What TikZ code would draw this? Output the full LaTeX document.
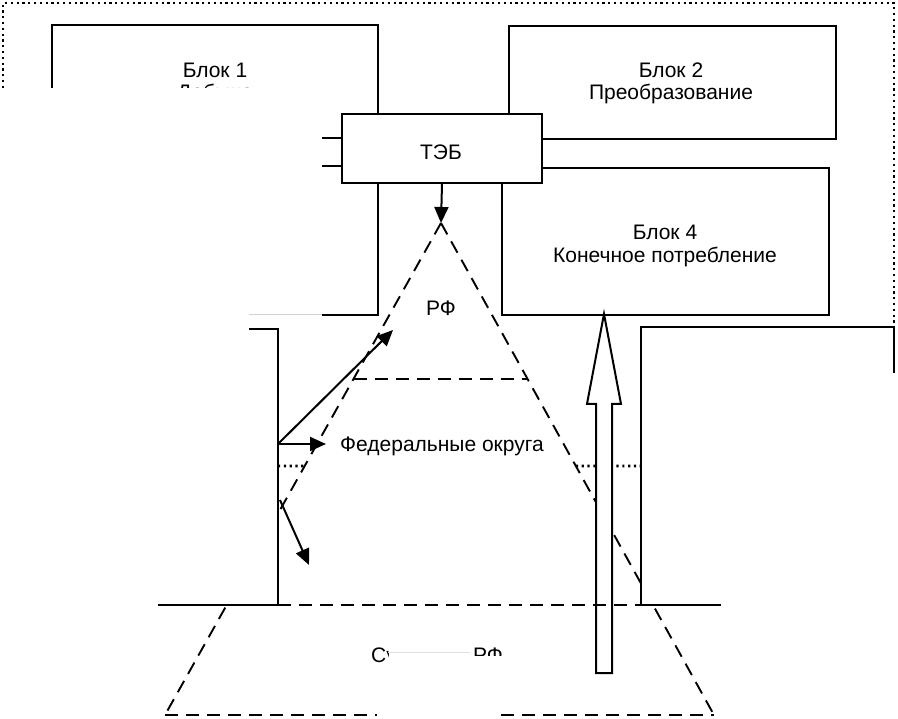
\documentclass[tikz,border=0pt]{standalone}
\usepackage{fontspec}
\setmainfont{Liberation Sans}
\usetikzlibrary{arrows.meta,calc}
\begin{document}
\begin{tikzpicture}[x=1pt,y=-1pt,
  line width=2pt,
  dashline/.style={line width=1.9pt, dash pattern=on 13pt off 8pt},
  dotline/.style={line width=2.6pt, dash pattern=on 2.2pt off 3.6pt},
  txt/.style={font=\fontsize{21}{25}\selectfont, inner sep=0pt, anchor=base},
  blockbox/.style={draw, line width=2pt, fill=white, inner sep=0pt, anchor=north west},
  tip/.style={-{Triangle[length=16pt,width=14pt]}}]
\useasboundingbox (0,0) rectangle (898,719);

% outer dotted frame
\draw[dotline] (3,88) -- (3,3) -- (894,3) -- (894,327);

% Block 1 (partly hidden)
\draw (52,88) -- (52,25) -- (378,25) -- (378,315) -- (322,315);
\draw[gray!35, line width=1pt] (249,315) -- (322,315);
\node[txt] (b1title) at (215,78) {Блок 1};
\begin{scope}
  \clip (150,81) rectangle (300,88);
  \node[txt] (b1sub) at (215,100) {Добыча};
\end{scope}

% Block 2 and Block 4
\node[blockbox, minimum width=327pt, minimum height=113pt] (b2) at (508,25) {};
\node[txt] (b2title) at (671,78) {Блок 2};
\node[txt] (b2sub) at (671,100) {Преобразование};
\node[blockbox, minimum width=327pt, minimum height=147pt] (b4) at (501,167) {};
\node[txt] (b4title) at (665,240) {Блок 4};
\node[txt] (b4sub) at (665,263) {Конечное потребление};

% TEB box
\node[blockbox, minimum width=200pt, minimum height=69pt] (teb) at (341,113) {};
\node[txt] (tebtext) at (441,160) {ТЭБ};
\draw (322,138) -- (teb.west |- 0,138);
\draw (322,166) -- (teb.west |- 0,166);

% pyramid
\coordinate (apex) at (441,223);
\coordinate (bl) at (165,715);
\coordinate (br) at (714,715);
\coordinate (l1) at ($(apex)!0.317!(bl)$);
\coordinate (r1) at ($(apex)!0.317!(br)$);
\coordinate (l2) at ($(apex)!0.494!(bl)$);
\coordinate (r2) at ($(apex)!0.494!(br)$);
\draw[tip] (teb.south) -- (apex);
\draw[dashline] (apex) -- (bl);
\draw[dashline] (apex) -- (br);
\draw[dashline] (l1) -- (r1);
\draw[dashline] (bl) -- (br);
\node[txt] (rf) at (441,316) {РФ};
\node[txt] (fo) at (442,452) {Федеральные округа};
\begin{scope}
  \clip (360,645) rectangle (388,662) (470,645) rectangle (510,655);
  \node[txt] (subj) at (437,662) {Субъекты РФ};
\end{scope}
\draw[gray!25, line width=1pt] (388,652) -- (470,652);
% mask on the base line
\fill[white] (377,705) rectangle (497,719);

% left block (partly hidden)
\fill[white] (150,329) rectangle (278,605);
\draw (249,329) -- (278,329) -- (278,605) -- (158,605);
% right block (partly hidden)
\fill[white] (641,327) rectangle (894,605);
\draw (721,605) -- (641,605) -- (641,327) -- (894,327) -- (894,373);

% dotted level line
\draw[dotline] (278,466) -- (l2);
\draw[dotline] (r2) -- (641,466);

% hollow arrow
\node[inner sep=0pt] (hat) at (604,314) {};
\draw[fill=white] (596,673) -- (596,404) -- (587,404) -- (hat.center) -- (621,404) -- (612,404) -- (612,673) -- cycle;

% lower level line
\draw[dashline] (278,605) -- (641,605);

% arrows from the left block
\coordinate (s1) at (278,444);
\coordinate (s2) at (280,500);
\coordinate (e1) at (393,330);
\coordinate (e2) at (326,444);
\coordinate (e3) at (309,565);
\draw[tip] (s1) -- (e1);
\draw[tip] (s1) -- (e2);
\draw[tip] (s2) -- (e3);
\end{tikzpicture}
\end{document}
